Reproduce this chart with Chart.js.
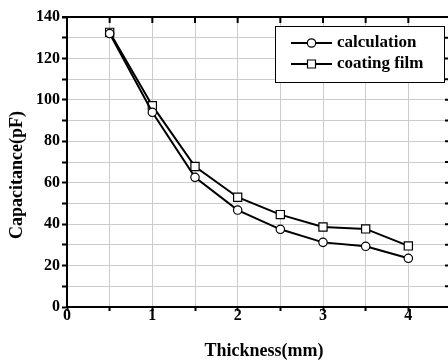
<!DOCTYPE html>
<html>
<head>
<meta charset="utf-8">
<script src="https://cdn.jsdelivr.net/npm/chart.js@4"></script>
<style>
  html, body { margin: 0; padding: 0; background: #fff; overflow: hidden; }
  #wrap { width: 458px; height: 360px; }
</style>
</head>
<body>
<div id="wrap"><canvas id="capChart"></canvas></div>
<script>
const thickness = [0.5, 1, 1.5, 2, 2.5, 3, 3.5, 4];
const calculation = [132, 94, 62.6, 46.8, 37.5, 31.2, 29.3, 23.5];
const coatingFilm = [132.6, 97.2, 67.8, 53, 44.6, 38.6, 37.7, 29.5];
const xTickLabels = [0, 1, 2, 3, 4];
const yTickLabels = [0, 20, 40, 60, 80, 100, 120, 140];
const seriesNames = ['calculation', 'coating film'];
const xTitle = 'Thickness(mm)';
const yTitle = 'Capacitance(pF)';

const serif = 'Liberation Serif, Times New Roman, serif';

// top/right frame with inward ticks, axis titles and the boxed legend
const extras = {
  id: 'extras',
  afterDraw(chart) {
    const ctx = chart.ctx;
    const a = chart.chartArea;
    const xs = chart.scales.x, ys = chart.scales.y;
    ctx.save();
    ctx.strokeStyle = '#000';
    ctx.lineWidth = 2;
    ctx.beginPath();
    ctx.moveTo(a.left - 5, a.top);
    ctx.lineTo(a.right, a.top);
    ctx.lineTo(a.right, a.bottom);
    ctx.stroke();
    ctx.beginPath();
    xs.ticks.forEach(t => {
      const px = xs.getPixelForValue(t.value);
      ctx.moveTo(px, a.top);
      ctx.lineTo(px, a.top + 6);
    });
    ys.ticks.forEach(t => {
      const py = ys.getPixelForValue(t.value);
      ctx.moveTo(a.right, py);
      ctx.lineTo(a.right - 6, py);
    });
    ctx.stroke();

    // axis titles
    ctx.fillStyle = '#000';
    ctx.font = 'bold 18px ' + serif;
    ctx.textAlign = 'center';
    ctx.textBaseline = 'middle';
    ctx.fillText(xTitle, 264, 351);
    ctx.save();
    ctx.translate(17, 175);
    ctx.rotate(-Math.PI / 2);
    ctx.fillText(yTitle, 0, 0);
    ctx.restore();

    // legend
    const bx = 275, by = 26, bw = 169, bh = 56;
    ctx.fillStyle = '#fff';
    ctx.fillRect(bx, by, bw, bh);
    ctx.lineWidth = 1;
    ctx.strokeRect(bx + 0.5, by + 0.5, bw, bh);
    const rows = [43, 64];
    chart.data.datasets.forEach((ds, i) => {
      const y = rows[i];
      ctx.lineWidth = 2;
      ctx.strokeStyle = '#000';
      ctx.beginPath();
      ctx.moveTo(291, y);
      ctx.lineTo(332, y);
      ctx.stroke();
      ctx.lineWidth = 1.2;
      ctx.fillStyle = '#fff';
      ctx.beginPath();
      if (ds.pointStyle === 'rect') {
        ctx.rect(307.5, y - 4, 8, 8);
      } else {
        ctx.arc(311.5, y, 4.2, 0, Math.PI * 2);
      }
      ctx.fill();
      ctx.stroke();
      ctx.fillStyle = '#000';
      ctx.font = 'bold 17px ' + serif;
      ctx.textAlign = 'left';
      ctx.fillText(ds.label, 337, y);
    });
    ctx.restore();
  }
};

const ctx = document.getElementById('capChart').getContext('2d');

const capChart = new Chart(ctx, {
  type: 'line',
  data: {
    datasets: [
      {
        label: seriesNames[0],
        data: thickness.map((t, i) => ({ x: t, y: calculation[i] })),
        borderColor: '#000',
        borderWidth: 2,
        pointStyle: 'circle',
        pointRadius: 4.2,
        pointBackgroundColor: '#fff',
        pointBorderColor: '#000',
        pointBorderWidth: 1.2,
        tension: 0,
        fill: false
      },
      {
        label: seriesNames[1],
        data: thickness.map((t, i) => ({ x: t, y: coatingFilm[i] })),
        borderColor: '#000',
        borderWidth: 2,
        pointStyle: 'rect',
        pointRadius: 5.8,
        pointBackgroundColor: '#fff',
        pointBorderColor: '#000',
        pointBorderWidth: 1.2,
        tension: 0,
        fill: false
      }
    ]
  },
  options: {
    responsive: true,
    maintainAspectRatio: false,
    animation: false,
    layout: { padding: { top: 17, left: 0, right: 0, bottom: 0 } },
    plugins: {
      legend: { display: false },
      tooltip: { enabled: false }
    },
    scales: {
      x: {
        type: 'linear',
        min: 0,
        max: 4.5,
        afterFit: s => { s.height = 53; },
        border: { color: '#000', width: 2 },
        grid: { color: '#cccccc', lineWidth: 1, tickColor: '#000', tickLength: 4, tickWidth: 2 },
        ticks: {
          stepSize: 0.5,
          autoSkip: false,
          maxRotation: 0,
          includeBounds: false,
          padding: -3,
          color: '#000',
          font: { family: serif, size: 16, weight: 'bold', lineHeight: 1 },
          callback: v => xTickLabels.includes(v) ? String(v) : ''
        }
      },
      y: {
        min: 0,
        max: 140,
        afterFit: s => { s.width = 67; },
        border: { color: '#000', width: 2 },
        grid: { color: '#cccccc', lineWidth: 1, tickColor: '#000', tickLength: 5, tickWidth: 2 },
        ticks: {
          stepSize: 10,
          autoSkip: false,
          padding: 2,
          color: '#000',
          font: { family: serif, size: 16, weight: 'bold' },
          callback: v => yTickLabels.includes(v) ? String(v) : ''
        }
      }
    }
  },
  plugins: [extras]
});
</script>
</body>
</html>
